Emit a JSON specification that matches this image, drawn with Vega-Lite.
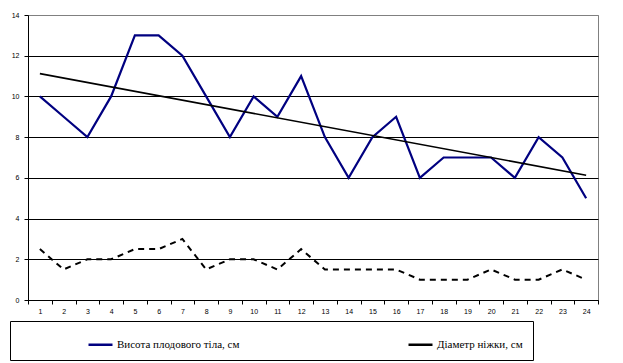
{
  "$schema": "https://vega.github.io/schema/vega-lite/v6.json",
  "width": 570,
  "height": 285,
  "autosize": "none",
  "padding": {"left": 28, "top": 15, "right": 25, "bottom": 63},
  "background": "white",
  "config": {
    "view": {"stroke": "#808080", "strokeWidth": 1},
    "axis": {"labelFont": "Liberation Sans", "labelFontSize": 7, "labelColor": "black", "domainColor": "black", "tickColor": "black", "title": null}
  },
  "data": {"values": [
    {"n": 1, "series": "Висота плодового тіла, см", "v": 10},
    {"n": 2, "series": "Висота плодового тіла, см", "v": 9},
    {"n": 3, "series": "Висота плодового тіла, см", "v": 8},
    {"n": 4, "series": "Висота плодового тіла, см", "v": 10},
    {"n": 5, "series": "Висота плодового тіла, см", "v": 13},
    {"n": 6, "series": "Висота плодового тіла, см", "v": 13},
    {"n": 7, "series": "Висота плодового тіла, см", "v": 12},
    {"n": 8, "series": "Висота плодового тіла, см", "v": 10},
    {"n": 9, "series": "Висота плодового тіла, см", "v": 8},
    {"n": 10, "series": "Висота плодового тіла, см", "v": 10},
    {"n": 11, "series": "Висота плодового тіла, см", "v": 9},
    {"n": 12, "series": "Висота плодового тіла, см", "v": 11},
    {"n": 13, "series": "Висота плодового тіла, см", "v": 8},
    {"n": 14, "series": "Висота плодового тіла, см", "v": 6},
    {"n": 15, "series": "Висота плодового тіла, см", "v": 8},
    {"n": 16, "series": "Висота плодового тіла, см", "v": 9},
    {"n": 17, "series": "Висота плодового тіла, см", "v": 6},
    {"n": 18, "series": "Висота плодового тіла, см", "v": 7},
    {"n": 19, "series": "Висота плодового тіла, см", "v": 7},
    {"n": 20, "series": "Висота плодового тіла, см", "v": 7},
    {"n": 21, "series": "Висота плодового тіла, см", "v": 6},
    {"n": 22, "series": "Висота плодового тіла, см", "v": 8},
    {"n": 23, "series": "Висота плодового тіла, см", "v": 7},
    {"n": 24, "series": "Висота плодового тіла, см", "v": 5},
    {"n": 1, "series": "Діаметр ніжки, см", "v": 2.5},
    {"n": 2, "series": "Діаметр ніжки, см", "v": 1.5},
    {"n": 3, "series": "Діаметр ніжки, см", "v": 2},
    {"n": 4, "series": "Діаметр ніжки, см", "v": 2},
    {"n": 5, "series": "Діаметр ніжки, см", "v": 2.5},
    {"n": 6, "series": "Діаметр ніжки, см", "v": 2.5},
    {"n": 7, "series": "Діаметр ніжки, см", "v": 3},
    {"n": 8, "series": "Діаметр ніжки, см", "v": 1.5},
    {"n": 9, "series": "Діаметр ніжки, см", "v": 2},
    {"n": 10, "series": "Діаметр ніжки, см", "v": 2},
    {"n": 11, "series": "Діаметр ніжки, см", "v": 1.5},
    {"n": 12, "series": "Діаметр ніжки, см", "v": 2.5},
    {"n": 13, "series": "Діаметр ніжки, см", "v": 1.5},
    {"n": 14, "series": "Діаметр ніжки, см", "v": 1.5},
    {"n": 15, "series": "Діаметр ніжки, см", "v": 1.5},
    {"n": 16, "series": "Діаметр ніжки, см", "v": 1.5},
    {"n": 17, "series": "Діаметр ніжки, см", "v": 1},
    {"n": 18, "series": "Діаметр ніжки, см", "v": 1},
    {"n": 19, "series": "Діаметр ніжки, см", "v": 1},
    {"n": 20, "series": "Діаметр ніжки, см", "v": 1.5},
    {"n": 21, "series": "Діаметр ніжки, см", "v": 1},
    {"n": 22, "series": "Діаметр ніжки, см", "v": 1},
    {"n": 23, "series": "Діаметр ніжки, см", "v": 1.5},
    {"n": 24, "series": "Діаметр ніжки, см", "v": 1}
  ]},
  "layer": [
    {
      "transform": [{"filter": "datum.series == 'Висота плодового тіла, см'"}],
      "mark": {"type": "line", "strokeWidth": 2.2},
      "encoding": {
        "x": {"field": "n", "type": "quantitative",
          "scale": {"domain": [0.5, 24.5], "nice": false, "zero": false},
          "axis": {"values": [1,2,3,4,5,6,7,8,9,10,11,12,13,14,15,16,17,18,19,20,21,22,23,24], "ticks": false, "grid": false, "labelPadding": 7, "domain": true, "labelFlush": false}},
        "y": {"field": "v", "type": "quantitative",
          "scale": {"domain": [0, 14], "nice": false},
          "axis": {"values": [0,2,4,6,8,10,12,14], "tickSize": 4, "labelPadding": 5, "grid": true,
            "gridColor": {"condition": {"test": "datum.value == 14", "value": "#808080"}, "value": "black"}, "gridOpacity": 1, "labelFlush": false}},
        "color": {"field": "series", "type": "nominal",
          "scale": {"domain": ["Висота плодового тіла, см", "Діаметр ніжки, см"], "range": ["#000080", "black"]},
          "legend": {"orient": "none", "legendX": -18, "legendY": 306, "direction": "horizontal", "columns": 2,
            "strokeColor": "black", "padding": 10, "symbolType": "stroke", "symbolSize": 576, "symbolStrokeWidth": 2.5,
            "symbolOffset": 67, "columnPadding": 100, "labelFont": "Times New Roman, Liberation Serif, serif", "labelFontSize": 11, "labelColor": "black", "labelOffset": 3, "title": null}}
      }
    },
    {
      "transform": [{"filter": "datum.series == 'Діаметр ніжки, см'"}],
      "mark": {"type": "line", "strokeWidth": 2, "strokeDash": [6, 5]},
      "encoding": {
        "x": {"field": "n", "type": "quantitative", "axis": null},
        "y": {"field": "v", "type": "quantitative"},
        "color": {"field": "series", "type": "nominal"}
      }
    },
    {
      "transform": [
        {"filter": "datum.series == 'Висота плодового тіла, см'"},
        {"regression": "v", "on": "n", "method": "linear"}
      ],
      "mark": {"type": "line", "color": "black", "strokeWidth": 1.6},
      "encoding": {
        "x": {"field": "n", "type": "quantitative",
          "axis": {"orient": "bottom", "values": [0.5,1.5,2.5,3.5,4.5,5.5,6.5,7.5,8.5,9.5,10.5,11.5,12.5,13.5,14.5,15.5,16.5,17.5,18.5,19.5,20.5,21.5,22.5,23.5,24.5], "labels": false, "ticks": true, "tickSize": 4, "domain": false, "grid": false}},
        "y": {"field": "v", "type": "quantitative"}
      }
    }
  ],
  "resolve": {"axis": {"x": "independent"}}
}
